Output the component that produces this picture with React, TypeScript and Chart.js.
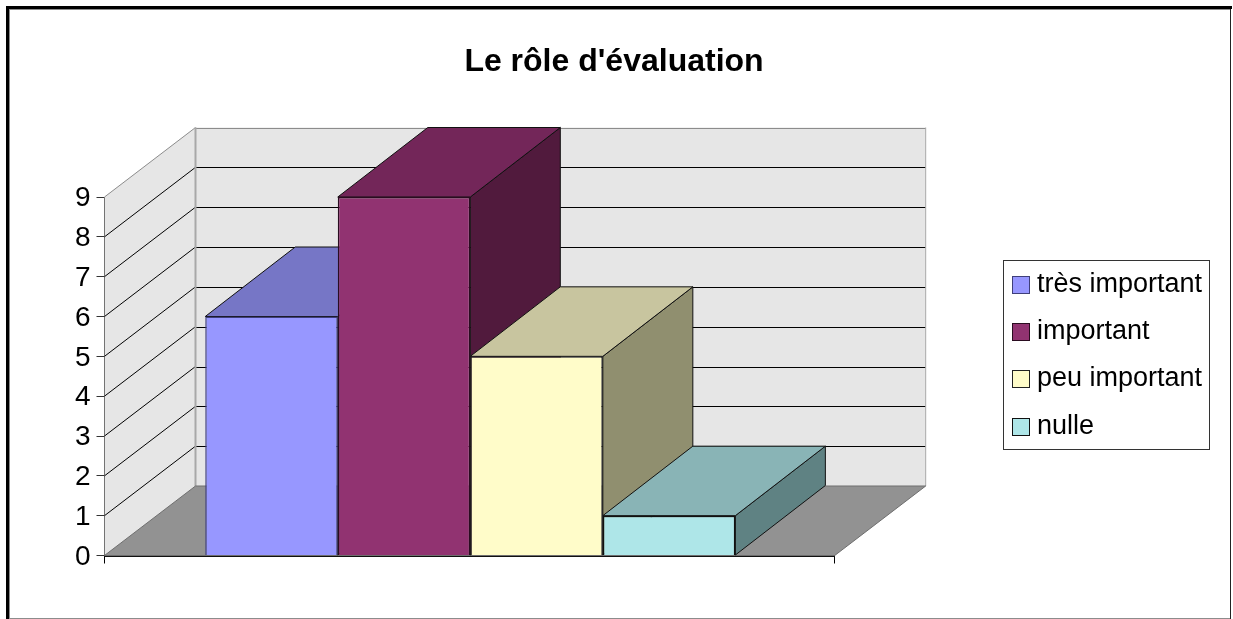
import React, { useEffect, useRef } from "react";
import { Chart, registerables } from "chart.js";

Chart.register(...registerables);

const categories = [""];
const seriesNames = ["très important", "important", "peu important", "nulle"];
const seriesValues = [6, 9, 5, 1];
const frontColors = ["#9797FF", "#913371", "#FFFCC9", "#AEE6E8"];
const topColors = ["#7676C6", "#732659", "#C8C59F", "#89B4B6"];
const sideColors = ["#5A5A96", "#511A3D", "#908F6F", "#5F8283"];
const edgeColors = ["#3F3F7A", "#2A0C20", "#222222", "#111111"];
const chartTitle = "Le rôle d'évaluation";
const FONT = "'Liberation Sans', Arial, sans-serif";

const WALL_DX = 91;
const WALL_DY = 69.5;
const BAR_DX = 90;
const BAR_DY = 69.5;
const BAR_SHIFT = 0.7;

function poly(ctx: CanvasRenderingContext2D, pts: number[][], fill: string | null, stroke: string | null, lw = 1) {
  ctx.beginPath();
  pts.forEach((p, i) => (i ? ctx.lineTo(p[0], p[1]) : ctx.moveTo(p[0], p[1])));
  ctx.closePath();
  if (fill) {
    ctx.fillStyle = fill;
    ctx.fill();
  }
  if (stroke) {
    ctx.strokeStyle = stroke;
    ctx.lineWidth = lw;
    ctx.stroke();
  }
}

function seg(ctx: CanvasRenderingContext2D, x1: number, y1: number, x2: number, y2: number, color: string, lw = 1) {
  ctx.beginPath();
  ctx.moveTo(x1, y1);
  ctx.lineTo(x2, y2);
  ctx.strokeStyle = color;
  ctx.lineWidth = lw;
  ctx.stroke();
}

const framePlugin = {
  id: "frame",
  afterLayout(chart: any) {
    if (chart.titleBlock) {
      chart.titleBlock.left = 0;
      chart.titleBlock.right = 1228;
    }
  },
  beforeDraw(chart: any) {
    const ctx = chart.ctx;
    ctx.save();
    ctx.fillStyle = "#FFFFFF";
    ctx.fillRect(0, 0, 1233, 619);
    ctx.fillStyle = "#000000";
    ctx.fillRect(6, 6, 1226, 3);
    ctx.fillRect(6, 6, 3, 613);
    ctx.fillStyle = "#8C8C8C";
    ctx.fillRect(9, 9, 1221, 1);
    ctx.fillRect(9, 9, 1, 610);
    ctx.fillRect(9, 618, 1222, 1);
    ctx.fillStyle = "#222222";
    ctx.fillRect(1230, 9, 1, 610);
    ctx.restore();
  },
};

const depthPlugin = {
  id: "depth",
  afterDatasetsUpdate(chart: any) {
    chart.data.datasets.forEach((_: any, i: number) => {
      chart.getDatasetMeta(i).data[0].x += BAR_SHIFT;
    });
  },
  beforeDatasetsDraw(chart: any) {
    const ctx = chart.ctx;
    const { left, right } = chart.chartArea;
    const y = chart.scales.y;
    const yTop = y.getPixelForValue(y.max);
    const yBase = y.getPixelForValue(0);
    ctx.save();
    // side wall and back wall
    poly(ctx, [[left, yTop], [left + WALL_DX, yTop - WALL_DY], [left + WALL_DX, yBase - WALL_DY], [left, yBase]], "#E6E6E6", null);
    poly(ctx, [[left + WALL_DX, yTop - WALL_DY], [right + WALL_DX, yTop - WALL_DY], [right + WALL_DX, yBase - WALL_DY], [left + WALL_DX, yBase - WALL_DY]], "#E6E6E6", null);
    // gridlines from the axis ticks
    y.ticks.forEach((t: any) => {
      if (t.value === 0 || t.value === y.max) return;
      const py = y.getPixelForValue(t.value);
      seg(ctx, left, py, left + WALL_DX, py - WALL_DY, "#000000", 1);
      const by = Math.round(py - WALL_DY) + 0.5;
      seg(ctx, left + WALL_DX, by, right + WALL_DX, by, "#000000", 1);
    });
    // wall outlines
    seg(ctx, left, yTop, left + WALL_DX, yTop - WALL_DY, "#8C8C8C", 1);
    seg(ctx, left + WALL_DX, Math.round(yTop - WALL_DY) + 0.5, right + WALL_DX, Math.round(yTop - WALL_DY) + 0.5, "#8C8C8C", 1);
    seg(ctx, left + WALL_DX, yTop - WALL_DY, left + WALL_DX, yBase - WALL_DY, "#A8A8A8", 2);
    seg(ctx, right + WALL_DX, yTop - WALL_DY, right + WALL_DX, yBase - WALL_DY, "#A8A8A8", 1);
    // floor
    poly(ctx, [[left, yBase], [left + WALL_DX, yBase - WALL_DY], [right + WALL_DX, yBase - WALL_DY], [right, yBase]], "#929292", "#6E6E6E", 1);
    // depth faces of the bars, left to right
    chart.data.datasets.forEach((_: any, i: number) => {
      const bar = chart.getDatasetMeta(i).data[0];
      const x0 = bar.x - bar.width / 2;
      const x1 = bar.x + bar.width / 2;
      const top = bar.y;
      const base = bar.base;
      poly(ctx, [[x1, top], [x1 + BAR_DX, top - BAR_DY], [x1 + BAR_DX, base - BAR_DY], [x1, base]], sideColors[i], "#111111", 1);
      poly(ctx, [[x0, top], [x0 + BAR_DX, top - BAR_DY], [x1 + BAR_DX, top - BAR_DY], [x1, top]], topColors[i], "#111111", 1);
    });
    ctx.restore();
  },
  afterDraw(chart: any) {
    const ctx = chart.ctx;
    ctx.save();
    // legend
    ctx.strokeStyle = "#333333";
    ctx.lineWidth = 1;
    ctx.strokeRect(1003.5, 260.5, 206, 189);
    ctx.font = `27px ${FONT}`;
    ctx.textAlign = "left";
    ctx.textBaseline = "alphabetic";
    chart.data.datasets.forEach((ds: any, i: number) => {
      const sy = 276.5 + Math.round(i * 47.2);
      ctx.fillStyle = frontColors[i];
      ctx.fillRect(1012.5, sy, 17, 17);
      ctx.strokeStyle = edgeColors[i];
      ctx.lineWidth = 1;
      ctx.strokeRect(1012.5, sy, 17, 17);
      ctx.fillStyle = "#000000";
      ctx.fillText(ds.label, 1037, 292 + i * 47.2);
    });
    ctx.restore();
  },
};

export default function App() {
  const ref = useRef<HTMLCanvasElement>(null);
  useEffect(() => {
    document.body.style.margin = "0";
    const chart = new Chart(ref.current as HTMLCanvasElement, {
      type: "bar",
      data: {
        labels: categories,
        datasets: seriesNames.map((name, i) => ({
          label: name,
          data: [seriesValues[i]],
          backgroundColor: frontColors[i],
          borderColor: edgeColors[i],
          borderWidth: 1.5,
          categoryPercentage: 0.726,
          barPercentage: 1,
        })),
      },
      options: {
        animation: false,
        responsive: false,
        maintainAspectRatio: false,
        layout: { padding: { left: 0, right: 398.3, top: 0, bottom: 63.5 } },
        plugins: {
          legend: { display: false },
          tooltip: { enabled: false },
          title: {
            display: true,
            text: chartTitle,
            color: "#000000",
            font: { family: FONT, size: 32, weight: "bold", lineHeight: 1.2 },
            padding: { top: 43, bottom: 115.6 },
          },
        },
        scales: {
          x: {
            afterFit: (s: any) => {
              s.height = 0;
            },
            ticks: { display: false },
            grid: { drawOnChartArea: false, drawTicks: true, tickLength: 8, color: "#000000" },
            border: { color: "#111111", width: 2 },
          },
          y: {
            min: 0,
            max: 9,
            afterFit: (s: any) => {
              s.width = 104.5;
            },
            ticks: {
              stepSize: 1,
              color: "#000000",
              padding: 6,
              labelOffset: 1.5,
              font: { family: FONT, size: 28 },
            },
            grid: { drawOnChartArea: false, drawTicks: true, tickLength: 8, color: "#333333" },
            border: { color: "#000000", width: 1 },
          },
        },
      },
      plugins: [framePlugin, depthPlugin],
    } as any);
    return () => chart.destroy();
  }, []);
  return <canvas ref={ref} width={1233} height={619} style={{ display: "block", width: 1233, height: 619 }} />;
}
